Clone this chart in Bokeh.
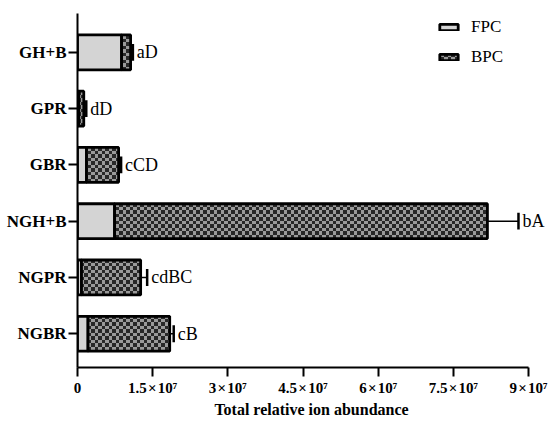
import base64
import struct
import zlib

from bokeh.plotting import figure
from bokeh.models import (ColumnDataSource, Range1d, FixedTicker, CustomJSTickFormatter,
                          ImageURLTexture, Legend, LegendItem)
from bokeh.core.properties import value
from bokeh.embed import file_html
from bokeh.resources import INLINE

# Groups, listed bottom to top as they appear on the y axis
categories = ["NGBR", "NGPR", "NGH+B", "GBR", "GPR", "GH+B"]
fpc = [2.1e6, 0.8e6, 7.4e6, 1.8e6, 0.25e6, 8.8e6]
bpc = [16.3e6, 11.8e6, 74.4e6, 6.4e6, 1.0e6, 1.8e6]
err = [0.8e6, 1.3e6, 6.2e6, 0.5e6, 0.5e6, 0.45e6]
letters = ["cB", "cdBC", "bA", "cCD", "dD", "aD"]
x_ticks = [0, 1.5e7, 3e7, 4.5e7, 6e7, 7.5e7, 9e7]

SERIF = "Liberation Serif"


def checker_png(n=7, h=4, dark=(40, 40, 40), light=(154, 154, 154)):
    """Small checkerboard tile as a PNG data URL, used as the BPC fill texture."""
    rows = b""
    for yy in range(n):
        row = b"\x00"
        for xx in range(n):
            row += bytes(dark if ((xx < h) == (yy < h)) else light)
        rows += row

    def chunk(tag, data):
        return (struct.pack(">I", len(data)) + tag + data
                + struct.pack(">I", zlib.crc32(tag + data) & 0xffffffff))

    png = (b"\x89PNG\r\n\x1a\n"
           + chunk(b"IHDR", struct.pack(">IIBBBBB", n, n, 8, 2, 0, 0, 0))
           + chunk(b"IDAT", zlib.compress(rows)) + chunk(b"IEND", b""))
    return "data:image/png;base64," + base64.b64encode(png).decode()


pos = list(range(len(categories)))
total = [f + b for f, b in zip(fpc, bpc)]
err_end = [t + e for t, e in zip(total, err)]

src = ColumnDataSource(dict(
    y=pos, fpc=fpc, total=total, err_end=err_end,
    cap_lo=[v - 0.15 for v in pos], cap_hi=[v + 0.15 for v in pos],
    letters=letters,
))

# frame is a bit wider than the axis so the last letter label is not clipped
AXIS_PX, FRAME_PX = 451, 468
x_end = x_ticks[-1] * FRAME_PX / AXIS_PX

p = figure(width=549, height=430, output_backend="svg", toolbar_location=None,
           x_range=Range1d(0, x_end), y_range=Range1d(-0.6, 5.69),
           min_border_left=77, min_border_right=4, min_border_top=13, min_border_bottom=63)
p.outline_line_color = None
p.xgrid.visible = False
p.ygrid.visible = False
p.background_fill_color = "white"

checker = ImageURLTexture(url=checker_png())

r_fpc = p.hbar(y="y", left=0, right="fpc", height=0.62, source=src,
               fill_color="#d4d4d4", line_color="black", line_width=2.8)
r_bpc = p.hbar(y="y", left="fpc", right="total", height=0.62, source=src,
               fill_color="#9a9a9a", line_color="black", line_width=2.8,
               hatch_pattern="o", hatch_extra={"o": checker},
               hatch_color="#282828", hatch_scale=7)

# error bars: whisker plus end cap
p.segment(x0="total", y0="y", x1="err_end", y1="y", source=src,
          line_color="black", line_width=1.5)
p.segment(x0="err_end", y0="cap_lo", x1="err_end", y1="cap_hi", source=src,
          line_color="black", line_width=2.5)

p.text(x="err_end", y="y", text="letters", source=src, x_offset=4,
       text_baseline="middle", text_align="left",
       text_font=value(SERIF), text_font_size="18px", text_color="black")

# y axis with group names
p.yaxis.ticker = FixedTicker(ticks=pos)
p.yaxis.major_label_overrides = {i: c for i, c in zip(pos, categories)}
p.yaxis.major_label_text_font = SERIF
p.yaxis.major_label_text_font_style = "bold"
p.yaxis.major_label_text_font_size = "17px"
p.yaxis.major_label_text_color = "black"
p.yaxis.major_tick_out = 9
p.yaxis.major_tick_in = 0
p.yaxis.minor_tick_line_color = None
p.yaxis.major_label_standoff = 2
p.yaxis.axis_line_width = 2
p.yaxis.major_tick_line_width = 2

# x axis in scientific notation, stopping at the last tick
p.xaxis.bounds = (0, x_ticks[-1])
p.xaxis.ticker = FixedTicker(ticks=x_ticks)
p.xaxis.formatter = CustomJSTickFormatter(code="""
if (tick == 0) return "0";
const m = tick / 1e7;
const s = Number.isInteger(m) ? m.toString() : m.toFixed(1);
return s + "\u200a\u00d7\u200a10\u2077";
""")
p.xaxis.major_label_text_font = SERIF
p.xaxis.major_label_text_font_style = "bold"
p.xaxis.major_label_text_font_size = "15px"
p.xaxis.major_label_text_color = "black"
p.xaxis.major_tick_out = 9
p.xaxis.major_tick_in = 0
p.xaxis.minor_tick_line_color = None
p.xaxis.major_label_standoff = 3
p.xaxis.axis_line_width = 2
p.xaxis.major_tick_line_width = 2
p.xaxis.axis_label = "Total relative ion abundance"
p.xaxis.axis_label_text_font = SERIF
p.xaxis.axis_label_text_font_style = "bold"
p.xaxis.axis_label_text_font_size = "16px"
p.xaxis.axis_label_text_color = "black"
p.xaxis.axis_label_standoff = 2

legend = Legend(items=[LegendItem(label="FPC", renderers=[r_fpc], index=0),
                       LegendItem(label="BPC", renderers=[r_bpc], index=0)],
                location=(360, 300), orientation="vertical",
                glyph_width=23, glyph_height=8, label_height=20, spacing=10,
                label_standoff=11, padding=0, margin=0,
                border_line_color=None, background_fill_alpha=0,
                label_text_font=SERIF, label_text_font_size="17px",
                label_text_color="black")
p.add_layout(legend, "center")

open("out.html", "w").write(file_html(p, INLINE))
